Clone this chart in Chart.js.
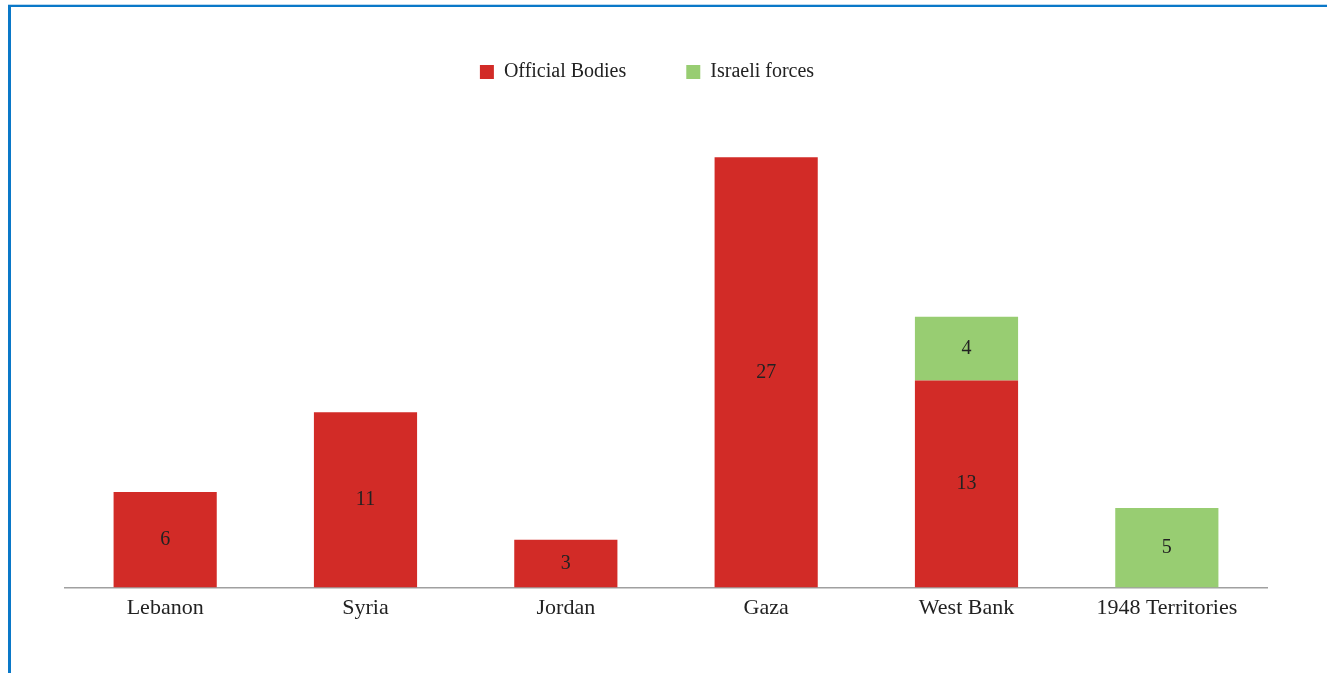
<!DOCTYPE html>
<html>
<head>
<meta charset="utf-8">
<script src="https://cdn.jsdelivr.net/npm/chart.js@4"></script>
<style>
  html, body { margin: 0; padding: 0; background: #fff; }
  #wrap { position: relative; width: 1327px; height: 673px; overflow: hidden; }
  #frame {
    position: absolute; left: 8px; top: 5px; right: -10px; bottom: -10px;
    border-top: 2px solid #0a78c8; border-left: 3px solid #0a78c8;
    box-shadow: 0 -1px 0 #bcd9ef;
  }
  canvas { position: absolute; left: 0; top: 0; }
</style>
</head>
<body>
<div id="wrap">
  <div id="frame"></div>
  <canvas id="barChart" width="1327" height="673"></canvas>
</div>
<script>
const regions = ['Lebanon', 'Syria', 'Jordan', 'Gaza', 'West Bank', '1948 Territories'];
const officialBodies = [6, 11, 3, 27, 13, null];
const israeliForces = [null, null, null, null, 4, 5];

const serif = '"Liberation Serif", "Times New Roman", serif';

// writes each value in the middle of its bar
const barValues = {
  id: 'barValues',
  afterDatasetsDraw(chart) {
    const ctx = chart.ctx;
    ctx.save();
    ctx.font = '20px ' + serif;
    ctx.fillStyle = '#222';
    ctx.textAlign = 'center';
    ctx.textBaseline = 'middle';
    chart.data.datasets.forEach((ds, i) => {
      chart.getDatasetMeta(i).data.forEach((bar, j) => {
        const v = ds.data[j];
        if (v == null) return;
        ctx.fillText(String(v), bar.x, (bar.y + bar.base) / 2);
      });
    });
    ctx.restore();
  }
};

// nudge the legend row a little to the left of the canvas centre
const legendShift = {
  id: 'legendShift',
  afterLayout(chart) {
    chart.legend.left -= 19;
    chart.legend.right -= 19;
  }
};

const ctx = document.getElementById('barChart').getContext('2d');

new Chart(ctx, {
  type: 'bar',
  data: {
    labels: regions,
    datasets: [
      {
        label: 'Official Bodies',
        data: officialBodies,
        backgroundColor: '#d22b27'
      },
      {
        label: 'Israeli forces',
        data: israeliForces,
        backgroundColor: '#98cd72'
      }
    ]
  },
  options: {
    responsive: false,
    animation: false,
    layout: { padding: { top: 2, left: 65, right: 60, bottom: 45 } },
    datasets: {
      bar: { barPercentage: 0.515, categoryPercentage: 1 }
    },
    scales: {
      x: {
        stacked: true,
        grid: { display: false, drawTicks: false },
        border: { display: true, color: '#a0a0a0', width: 1.5 },
        ticks: {
          padding: 7,
          color: '#222',
          font: { family: serif, size: 22 }
        }
      },
      y: {
        stacked: true,
        display: false,
        min: 0,
        max: 31.1
      }
    },
    plugins: {
      legend: {
        labels: {
          boxWidth: 14,
          boxHeight: 14,
          padding: 60,
          color: '#222',
          font: { family: serif, size: 20 }
        }
      },
      tooltip: { enabled: false }
    }
  },
  plugins: [barValues, legendShift]
});
</script>
</body>
</html>
